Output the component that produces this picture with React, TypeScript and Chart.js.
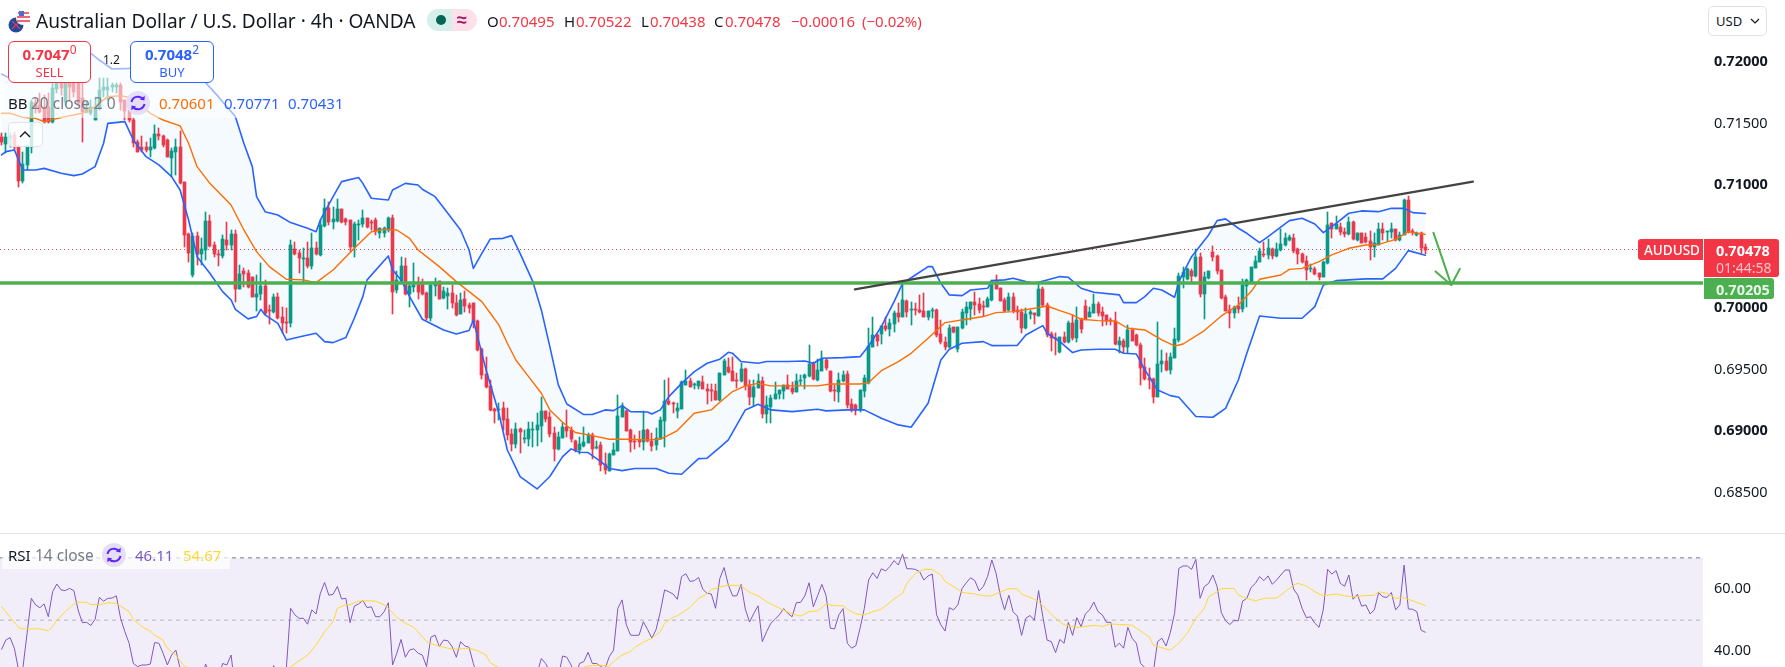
import React, { useEffect, useRef } from "react";
import { Chart, registerables } from "chart.js";
Chart.register(...registerables);

// Prices in pipettes (1e-5 of a dollar): 70478 = 0.70478
const opens = [
71396,71336,71385,71409,71309,71038,71166,71315,71667,71653,
71640,71640,71518,71781,71835,71680,71830,71830,71830,71708,
71599,71586,71531,71626,71775,71775,71802,71802,71816,71694,
71613,71531,71355,71315,71309,71288,71301,71418,71404,71369,
71220,71274,71309,71025,70605,70271,70591,70442,70474,70710,
70515,70439,70428,70556,70515,70605,70157,70304,70285,70252,
70095,70117,70182,69987,69973,70090,69927,69886,69878,70483,
70447,70404,70407,70344,70493,70434,70670,70819,70705,70713,
70805,70727,70718,70496,70678,70686,70737,70705,70718,70610,
70615,70637,70732,70150,70225,70345,70117,70177,70190,70198,
70128,69919,70185,70220,70087,70103,70122,70041,69954,70074,
70027,70047,69900,69670,69467,69372,69182,69174,69190,69098,
68979,68897,69017,68941,68941,69014,69011,69047,69166,69117,
68990,68857,68946,69033,69011,68925,68849,68881,68908,68973,
68865,68889,68735,68681,68808,68843,69120,69166,69011,68922,
68927,68916,69011,68922,68889,68944,69087,69244,69231,69168,
69185,69380,69410,69377,69369,69399,69345,69336,69328,69255,
69458,69523,69491,69417,69409,69507,69374,69282,69355,69409,
69141,69195,69266,69304,69331,69374,69350,69323,69412,69431,
69453,69558,69417,69493,69583,69488,69336,69320,69412,69463,
69222,69214,69182,69328,69390,69688,69783,69791,69856,69832,
69873,69959,69932,70060,69989,69997,69984,69981,69927,69976,
69987,69791,69729,69683,69846,69667,69840,69965,69992,70051,
70035,70022,70014,70068,70222,70165,70068,69987,70089,69987,
69973,69840,69951,69959,69940,70157,70027,69791,69759,69645,
69764,69726,69884,69756,69911,70019,69932,69965,70035,69970,
69943,69905,69897,69705,69737,69688,69824,69786,69705,69523,
69431,69426,69282,69547,69572,69499,69599,69743,70252,70236,
70301,70263,70415,70116,70247,70458,70425,70312,70092,69986,
69962,70019,69995,70182,70217,70331,70379,70439,70434,70480,
70425,70474,70515,70556,70572,70485,70444,70382,70322,70320,
70284,70255,70366,70691,70645,70658,70621,70604,70702,70556,
70610,70577,70550,70496,70518,70645,70618,70621,70645,70556,
70599,70881,70629,70596,70615,70495];

const highs = [
71423,71423,71423,71437,71328,71268,71328,71694,71708,71748,
71735,71748,71830,71884,71884,71857,71857,71857,71843,71830,
71680,71694,71721,71870,71870,71870,71830,71830,71830,71694,
71613,71545,71369,71404,71355,71382,71491,71464,71409,71374,
71301,71374,71442,71030,70610,70610,70623,70569,70781,70759,
70542,70474,70596,70705,70637,70637,70353,70325,70312,70258,
70271,70366,70231,70027,70117,70122,70008,70000,70556,70542,
70474,70488,70542,70610,70542,70718,70886,70867,70827,70886,
70805,70737,70718,70705,70718,70800,70737,70718,70732,70651,
70664,70745,70759,70307,70415,70407,70204,70372,70252,70236,
70136,70204,70250,70220,70177,70163,70190,70109,70122,70141,
70041,70047,69906,69675,69602,69418,69187,69228,69236,69187,
69019,69071,69025,69011,69079,69079,69152,69277,69166,69160,
69038,68998,69071,69174,69033,68930,68957,69038,68990,68984,
68925,68916,68822,68822,68908,69296,69228,69174,69017,68971,
69003,69166,69017,68984,69025,69114,69418,69431,69242,69228,
69412,69499,69431,69396,69412,69450,69383,69383,69385,69477,
69588,69599,69602,69472,69553,69512,69417,69417,69466,69445,
69287,69295,69398,69336,69374,69458,69404,69466,69458,69463,
69702,69566,69591,69653,69585,69491,69377,69472,69493,69493,
69260,69222,69336,69458,69837,69927,69789,69856,69927,69911,
69981,70041,70217,70068,70054,70041,70108,70122,69978,70000,
69992,69905,69764,69865,69851,69851,69992,70054,70054,70136,
70081,70062,70095,70230,70271,70168,70087,70122,70122,70019,
69992,70005,69987,69965,70209,70171,70041,69810,69797,69770,
69805,69897,69946,70008,69919,70068,70014,70116,70054,70014,
69946,69919,69973,69770,69748,69864,69837,69791,69715,69593,
69512,69431,69886,69661,69640,69634,69837,70284,70333,70325,
70317,70480,70447,70298,70304,70507,70434,70312,70108,70027,
70019,70095,70238,70238,70339,70428,70488,70542,70561,70488,
70534,70642,70615,70596,70604,70493,70447,70428,70360,70339,
70290,70382,70780,70696,70751,70691,70650,70740,70710,70615,
70612,70610,70629,70610,70691,70691,70630,70691,70648,70623,
70886,70913,70642,70623,70618,70522];

const lows = [
71328,71260,71315,71288,70984,71022,71125,71260,71586,71586,
71504,71504,71504,71748,71735,71653,71694,71721,71645,71355,
71586,71572,71531,71613,71721,71694,71762,71748,71613,71531,
71518,71309,71274,71274,71274,71233,71296,71369,71315,71233,
71065,71084,71011,70502,70380,70252,70353,70353,70393,70502,
70420,70344,70407,70474,70474,70054,70157,70176,70163,70095,
69981,70068,69946,69873,69960,69911,69797,69802,69851,70434,
70285,70217,70325,70317,70434,70426,70664,70678,70643,70705,
70691,70678,70461,70420,70556,70664,70656,70637,70596,70569,
70577,70623,69954,70128,70217,70109,70014,70136,70074,70109,
69906,69897,70101,70074,70079,69995,70000,69938,69954,69973,
69960,69838,69654,69423,69350,69168,69071,69093,69011,68930,
68843,68862,68827,68903,68881,68876,68881,68916,69079,68957,
68762,68849,68944,68957,68916,68835,68813,68870,68903,68776,
68857,68681,68654,68681,68808,68843,69114,69000,68832,68857,
68876,68849,68911,68843,68849,68938,68876,69215,69152,69106,
69179,69377,69358,69345,69347,69345,69223,69250,69255,69250,
69458,69477,69409,69355,69404,69336,69214,69209,69350,69106,
69065,69071,69260,69266,69260,69342,69301,69320,69374,69342,
69445,69417,69412,69488,69501,69322,69249,69241,69404,69187,
69155,69130,69160,69282,69385,69683,69694,69710,69818,69775,
69810,69892,69927,69932,69865,69946,69959,69927,69905,69919,
69770,69710,69661,69675,69797,69648,69835,69865,69905,69946,
69959,69938,70008,70062,70155,70057,69973,69981,69965,69905,
69802,69835,69913,69873,69938,70014,69764,69656,69621,69640,
69718,69721,69743,69729,69797,69905,69927,69959,69938,69856,
69864,69864,69702,69634,69634,69634,69732,69694,69377,69417,
69341,69228,69276,69485,69493,69466,69593,69729,70163,70230,
70203,70257,70095,69913,70241,70387,70276,70073,69976,69840,
69919,69965,69973,70008,70209,70325,70377,70420,70401,70401,
70420,70469,70509,70550,70447,70360,70366,70230,70295,70274,
70230,70252,70360,70569,70642,70596,70583,70599,70556,70550,
70531,70534,70393,70415,70512,70556,70547,70569,70550,70550,
70596,70615,70596,70591,70447,70438];

const closes = [
71355,71390,71401,71315,71038,71174,71315,71680,71640,71599,
71518,71518,71789,71830,71789,71835,71797,71762,71667,71599,
71618,71640,71626,71775,71802,71802,71816,71816,71680,71607,
71531,71347,71274,71288,71288,71309,71418,71401,71328,71233,
71279,71309,71016,70596,70447,70591,70442,70480,70710,70510,
70442,70431,70564,70515,70605,70157,70279,70279,70171,70095,
70117,70182,69960,69981,70090,69924,69878,69878,70515,70442,
70407,70412,70344,70493,70442,70678,70813,70705,70727,70805,
70699,70699,70496,70686,70686,70732,70664,70699,70632,70651,
70651,70732,70136,70231,70345,70117,70182,70190,70136,70114,
69919,70190,70209,70076,70141,70122,70046,69946,70068,70022,
70003,69887,69662,69461,69364,69174,69163,69185,69093,68971,
68897,69017,68995,68946,69017,69019,69052,69166,69101,68979,
68857,68952,69033,69006,68938,68846,68897,68914,68968,68857,
68873,68729,68686,68816,68849,69125,69206,69006,68916,68916,
68916,69011,68919,68884,68946,69093,69244,69225,69220,69193,
69404,69407,69364,69383,69410,69345,69331,69326,69255,69472,
69572,69485,69412,69415,69507,69371,69282,69360,69409,69144,
69214,69274,69304,69336,69374,69344,69320,69409,69417,69461,
69547,69423,69499,69591,69512,69331,69325,69415,69461,69214,
69171,69182,69333,69434,69694,69783,69737,69856,69832,69878,
69965,69932,70068,69973,69995,69989,69968,69932,69978,69987,
69783,69724,69688,69840,69805,69851,69973,70014,70049,70024,
69987,70016,70076,70225,70157,70062,69981,70089,69981,69973,
69840,69954,69973,69946,70157,70027,69783,69756,69753,69764,
69724,69884,69756,69905,69835,69911,69970,70032,69965,69938,
69900,69900,69710,69734,69688,69824,69737,69699,69518,69426,
69420,69282,69547,69572,69499,69602,69751,70263,70295,70317,
70266,70415,70116,70252,70304,70420,70303,70081,69981,69965,
70014,69995,70190,70230,70333,70387,70466,70434,70488,70425,
70480,70523,70569,70583,70466,70444,70374,70312,70331,70279,
70255,70377,70677,70645,70686,70618,70607,70702,70561,70610,
70534,70542,70501,70528,70645,70615,70626,70645,70553,70596,
70881,70621,70623,70610,70493,70478];

// Bollinger bands at these bar numbers
const upperBars = [0,2,6,10,14,18,21,23,26,30,34,40,46,48,51,55,57,59,60,62,65,68,72,74,75,78,80,84,85,87,91,92,95,98,99,102,105,108,110,111,113,115,118,120,122,125,127,129,131,133,137,139,142,144,146,148,152,153,155,157,160,163,166,169,171,172,174,178,180,185,189,191,193,198,202,204,207,210,212,215,218,219,221,223,226,228,232,233,236,238,241,243,246,249,251,254,257,263,264,267,269,271,273,276,277,280,284,286,288,291,293,296,298,303,306,309,311,314,317,320,324,327,330,332,335];
const upperVals = [71905,71870,71938,72019,72100,72128,72073,72019,71946,71951,71965,71965,71911,71835,71721,71559,71342,71152,70908,70786,70759,70697,70651,70623,70718,70908,71030,71063,71016,70895,70881,70962,71016,71003,70968,70908,70773,70637,70474,70325,70447,70564,70569,70591,70447,70217,69987,69689,69377,69222,69136,69136,69174,69168,69209,69160,69157,69141,69174,69282,69390,69485,69553,69586,69642,69634,69567,69553,69567,69567,69572,69553,69594,69599,69607,69694,69851,70054,70203,70271,70339,70339,70203,70109,70103,70149,70163,70225,70231,70244,70217,70203,70231,70258,70252,70163,70130,70109,70046,70046,70095,70163,70149,70090,70217,70420,70596,70713,70727,70651,70610,70534,70583,70713,70732,70686,70615,70691,70773,70792,70786,70813,70813,70778,70771];

const basisBars = [0,2,5,8,10,15,19,22,25,28,31,35,38,42,44,46,49,54,57,60,63,67,71,74,78,83,87,90,93,96,98,100,103,107,110,113,115,117,119,121,124,127,129,132,135,139,143,147,152,155,159,163,167,169,172,175,178,181,186,192,195,202,204,207,211,214,218,222,227,231,234,238,243,246,249,252,254,258,262,265,269,273,276,278,283,287,291,294,296,301,303,306,310,313,317,321,324,328,331,335];
const basisVals = [71586,71586,71553,71545,71518,71559,71586,71640,71721,71729,71708,71586,71531,71483,71342,71152,71016,70840,70637,70461,70339,70236,70231,70209,70312,70488,70623,70642,70637,70569,70474,70420,70339,70217,70136,70054,69960,69865,69716,69580,69445,69309,69174,69073,68990,68965,68935,68935,68930,68935,69006,69147,69174,69236,69323,69369,69390,69369,69369,69369,69385,69385,69396,69493,69567,69634,69756,69884,69911,69933,69965,69973,70000,70019,69981,69946,69911,69900,69897,69838,69824,69743,69694,69710,69819,69938,70027,70136,70236,70271,70317,70325,70380,70434,70488,70515,70520,70561,70623,70601];

const lowerBars = [0,1,3,5,8,10,14,17,19,22,24,25,29,31,34,37,40,42,44,46,49,52,54,55,58,60,61,62,65,67,71,74,76,78,81,83,85,86,91,92,94,96,99,104,107,110,111,112,114,117,119,122,126,129,132,134,136,138,141,143,146,149,154,157,160,164,166,169,171,175,178,181,186,192,194,199,203,207,211,214,218,221,223,226,231,233,239,241,245,246,249,252,254,258,262,264,267,269,272,275,277,281,285,288,291,293,296,301,306,309,311,314,321,325,328,331,335];
const lowerVals = [71247,71274,71288,71125,71125,71138,71098,71079,71092,71152,71342,71504,71518,71369,71233,71166,71071,70962,70718,70420,70285,70136,70068,69992,69914,69933,69992,69946,69878,69743,69775,69797,69729,69721,69762,69919,70095,70231,70426,70312,70231,70095,69911,69824,69791,69819,69905,69770,69499,69147,68848,68632,68531,68632,68794,68857,68829,68827,68754,68697,68680,68697,68697,68659,68651,68778,68781,68870,68930,69174,69220,69174,69160,69179,69166,69174,69174,69106,69052,69033,69228,69580,69667,69716,69729,69697,69699,69783,69859,69797,69729,69640,69661,69667,69667,69634,69629,69499,69336,69290,69277,69120,69114,69187,69417,69634,69938,69919,69919,70014,70190,70225,70239,70239,70325,70469,70431];

const priceTicks = [72000, 71500, 71000, 70000, 69500, 69000, 68500];
const boldPriceTicks = [72000, 71000, 70000, 69000];
const supportLevel = [70205, 70205];
const lastPriceLevel = [70478, 70478];
const trendBars = [200.76, 346.2];
const trendVals = [70154, 71030];
const arrowShaftBars = [336.9, 341.1];
const arrowShaftVals = [70615, 70190];
const arrowHeadBars = [337.4, 341.1, 343.1];
const arrowHeadVals = [70300, 70190, 70320];

// RSI 14 for every bar, and its moving average at sampled bars
const rsiVals = [
40.6,43.6,44.4,41,34,34.5,45.8,57,54.9,54,55.2,51.1,59.1,61.6,59.7,59.5,60.2,59.5,53.3,49.2,
49.3,48.3,50.3,57.3,56.1,57,57.1,57.8,50.6,46.3,42.6,36.1,35.1,35.6,35.6,35.9,42.8,42.6,39.4,35.6,
38.8,40.4,34.5,26.5,24.4,28.6,26.5,30.8,35.9,32.9,31.8,30.8,36.1,35.6,38.8,27.6,30.8,28.6,27.6,25.4,
27.6,30.8,25.4,24.4,35.4,32.9,31.8,34.5,53.8,51.7,50.6,50.6,48.7,53.3,52,58.6,62.1,58,58.3,60.8,
56.8,57,49.2,54.5,55.2,56.3,54,54.3,51.1,51.1,52.7,55.6,35.6,39.4,43.8,38.1,40.4,40.8,39.4,38.8,
35.1,44.5,45.2,41.5,43.6,43.4,41.5,38.1,43.1,41.7,41.3,36.1,31.8,27.6,24.4,21.2,22.2,23.3,24.4,24.4,
23.3,28.6,28.6,27.6,30.8,30.8,32.9,37.7,36.1,33.5,28.6,31.8,38.5,38.1,35.6,31.8,36.1,36.7,39.7,36.1,
36.1,35.1,34.5,38.3,40.4,53.8,56.5,48.5,45.2,45.1,45.2,49.5,47,44.2,47,52.7,59.7,59.1,58.4,56.7,
64,64.9,62.4,62.7,63.7,59.9,58.6,58.4,53.8,63.4,66.9,61.3,57.8,57.8,61.5,53.5,49.4,52.2,54.6,43.1,
46.3,49,50.3,51.7,53.7,52.2,51.1,55.6,55.7,57.8,62,54.3,57.8,61.5,57.9,47.4,47.2,51.7,53.7,42.6,
41,41.8,47.4,53.8,62.9,65.2,63.4,66.5,65.8,67.2,69.1,67.7,71.2,66.5,66.5,66.3,65.6,62.9,64.2,64.8,
51.7,48.5,46.5,54,53.3,54.9,60.2,62,63.6,62.7,59.4,60.8,64,69.3,65,58,53.3,58,52.7,51.3,
45.1,50.6,51.5,50,59.5,51.1,43.6,43.1,39.6,43.8,42.6,49.3,45.1,50.8,47.9,52,53.3,55.8,52.7,51.7,
49.3,49.3,41.3,42.6,41,47.7,44.2,42.6,36.1,34.8,33.4,33.4,43.1,44.2,41.7,46,52.2,66.6,67.4,67.4,
66.3,69.5,57,60.8,61.8,64.5,60.8,52.4,49.8,48.6,49.9,49.8,56.1,57,60.5,61.8,64,62.7,64.2,61.5,
62.9,64.5,66.1,66.1,60,58,53.8,50.8,51.1,49,47.7,53.5,66.3,64.8,65.9,61.8,60.9,64.5,56.7,58.3,
54.5,54.9,52,53.3,58.8,57.5,57.3,58.9,53.3,54.9,67.7,53.6,53.5,52.7,46.8,46.11];
const rsiMaBars = [0,1,2,4,5,7,9,11,12,13,15,17,18,20,21,23,24,25,27,28,30,31,33,35,36,38,39,41,42,43,48,55,62,67,68,70,72,74,76,78,79,81,82,84,86,88,90,91,93,95,97,99,100,102,104,106,108,110,112,114,115,117,122,130,137,138,141,143,144,146,148,149,151,153,155,156,158,159,162,164,166,167,170,172,174,176,178,180,181,182,184,186,188,190,192,194,196,198,199,201,203,205,207,210,212,213,215,217,219,221,222,225,226,229,231,233,235,237,239,240,243,244,246,248,250,253,255,257,259,261,263,266,267,270,271,274,275,277,279,281,283,284,286,287,290,291,293,295,297,299,300,302,304,305,307,309,311,314,316,318,321,323,324,326,328,330,332,335];
const rsiMaVals = [54.3,52.7,50.9,47.7,47.2,47.2,47.2,46.6,47.9,50,52.7,55.2,55.8,55.7,55,55,55.3,55.6,55.4,54.5,52.7,50.3,47.9,46.5,45.2,43.6,41,38.8,36.9,35.3,31.9,29.7,31.8,34.5,35,36.9,38.8,42,46.3,49.5,53.8,55,55,56.1,56.2,56.1,54.9,53.8,50.9,49,47.7,44.7,43.1,42,41.3,40.7,40.8,41,40.2,38.8,36.3,34.8,32.9,33.4,34.8,35.3,35.6,35.3,36.7,38.8,39.9,41.3,42.9,44.2,46.3,49,50.9,51.4,54.1,57,58.4,59.9,61,61.2,61,58.9,57.8,55.9,55.2,54.5,53.3,52,51.3,52.7,53,55.2,54.6,54.6,53.5,52,51.7,52.7,53.5,56.8,58.6,61.8,65,66.3,66.3,64.5,62.4,59.9,58.9,58.4,57.8,57.8,59.1,60.1,60.1,58.4,56.7,55.9,53.3,50.6,48.5,47.6,48,48.3,48,48.8,48.6,48.4,47.4,44.7,42,40.7,40.4,42.6,45.8,50.6,53.8,57.5,59.1,60.1,60.2,58,57,56.2,57,57.1,57.1,59.1,61.3,61.8,61,59.1,57.8,58.4,57.8,57.5,57.9,58,59.1,58.6,57,57.2,56.2,54.67];
const rsiTicks = [60, 40];
const rsiUpperBand = [70, 70];
const rsiMidBand = [50, 50];

const UP = "#089981";
const DOWN = "#f23645";
const FONT = '"Noto Sans", sans-serif';
const XMIN = -0.372;
const XMAX = 400.33;
const AXIS_W = 82;

const zip = (xs: number[], ys: number[]) => xs.map((x, i) => ({ x, y: ys[i] }));
const level = (ys: number[]) => [{ x: XMIN, y: ys[0] }, { x: XMAX, y: ys[1] }];
const lineBase = { type: "line", pointRadius: 0, tension: 0, fill: false, borderJoinStyle: "round", borderCapStyle: "round" };

const snapBars = {
  id: "snapBars",
  afterDatasetsUpdate(chart: any) {
    chart.getSortedVisibleDatasetMetas().forEach((meta: any) => {
      if (meta.type !== "bar") return;
      meta.data.forEach((el: any) => {
        el.x = Math.floor(el.x) + 0.5;
        let top = Math.round(Math.min(el.y, el.base));
        let bot = Math.round(Math.max(el.y, el.base));
        if (bot - top < 1) bot = top + 1;
        el.y = top;
        el.base = bot;
        el.height = bot - top;
      });
    });
  },
};

const fitAxis = (scale: any) => {
  scale.width = AXIS_W;
  scale.paddingTop = 0;
  scale.paddingBottom = 0;
};

function RefreshIcon({ x, y }: { x: number; y: number }) {
  return (
    <svg width="24" height="24" viewBox="0 0 24 24" style={{ position: "absolute", left: x - 12, top: y - 12 }}>
      <circle cx="12" cy="12" r="12" fill="#e5def7" />
      <path d="M5.5 11 a6.6 6.6 0 0 1 11.5 -3" fill="none" stroke="#5c22ff" strokeWidth="2" />
      <path d="M18.5 13 a6.6 6.6 0 0 1 -11.5 3" fill="none" stroke="#5c22ff" strokeWidth="2" />
      <path d="M18.8 4.8 L18.4 9.6 L13.8 8.6 Z" fill="#5c22ff" />
      <path d="M5.2 19.2 L5.6 14.4 L10.2 15.4 Z" fill="#5c22ff" />
    </svg>
  );
}

function T({ x, y, c, s = 15, w = 400, children }: any) {
  return (
    <span style={{ position: "absolute", left: x, top: y, lineHeight: "20px", height: 20, transform: "translateY(-10px)", color: c, fontSize: s, fontWeight: w, whiteSpace: "pre", fontFamily: FONT }}>
      {children}
    </span>
  );
}

function Box({ x, y, w, h, bg, style, children }: any) {
  return (
    <div style={{ position: "absolute", left: x, top: y, width: w, height: h, background: bg, boxSizing: "border-box", ...style }}>{children}</div>
  );
}

export default function App() {
  const mainRef = useRef<HTMLCanvasElement>(null);
  const rsiRef = useRef<HTMLCanvasElement>(null);

  useEffect(() => {
    document.body.style.margin = "0";
    document.body.style.overflow = "hidden";
    const bars = closes.map((_, i) => i);
    const barColors = closes.map((c, i) => (c >= opens[i] ? UP : DOWN));
    const main = new Chart(mainRef.current!, {
      data: {
        datasets: [
          { ...lineBase, label: "Trend", data: zip(trendBars, trendVals), borderColor: "#434343", borderWidth: 2.2, order: 0 },
          { ...lineBase, label: "Arrow shaft", data: zip(arrowShaftBars, arrowShaftVals), borderColor: "#4caf50", borderWidth: 2, order: 0 },
          { ...lineBase, label: "Arrow head", data: zip(arrowHeadBars, arrowHeadVals), borderColor: "#4caf50", borderWidth: 2, order: 0 },
          { ...lineBase, label: "Support", data: level(supportLevel), borderColor: "#4caf50", borderWidth: 3.5, order: 1 },
          { ...lineBase, label: "BB basis", data: zip(basisBars, basisVals), borderColor: "#ff6d00", borderWidth: 1.4, order: 2 },
          { ...lineBase, label: "BB upper", data: zip(upperBars, upperVals), borderColor: "#2962ff", borderWidth: 1.6, order: 2, fill: { target: 6 }, backgroundColor: "rgba(33,150,243,0.05)" },
          { ...lineBase, label: "BB lower", data: zip(lowerBars, lowerVals), borderColor: "#2962ff", borderWidth: 1.6, order: 2 },
          { type: "bar", label: "Body", data: bars.map((i) => ({ x: i, y: [opens[i], closes[i]] })), backgroundColor: barColors, borderWidth: 0, barThickness: 3, grouped: false, order: 3 },
          { type: "bar", label: "Wick", data: bars.map((i) => ({ x: i, y: [lows[i], highs[i]] })), backgroundColor: barColors, borderWidth: 0, barThickness: 1, grouped: false, order: 4 },
          { ...lineBase, label: "Last", data: level(lastPriceLevel), borderColor: DOWN, borderWidth: 1, borderDash: [1, 3], borderCapStyle: "butt", order: 5 },
        ],
      } as any,
      options: {
        animation: false,
        responsive: false,
        devicePixelRatio: 1,
        layout: { padding: 0 },
        plugins: { legend: { display: false }, tooltip: { enabled: false } },
        scales: {
          x: { type: "linear", display: false, min: XMIN, max: XMAX, offset: false, grid: { display: false } },
          y: {
            position: "right",
            min: 68173,
            max: 72507,
            grid: { display: false },
            border: { display: false },
            afterBuildTicks: (s: any) => { s.ticks = priceTicks.map((value) => ({ value })); },
            afterFit: fitAxis,
            ticks: {
              autoSkip: false,
              padding: 3,
              color: "#131722",
              callback: (v: any) => (Number(v) / 1e5).toFixed(5),
              font: (ctx: any) => ({ family: FONT, size: 14.5, weight: boldPriceTicks.includes(ctx.tick?.value) ? "bold" : "normal" }),
            },
          },
        },
      } as any,
      plugins: [snapBars],
    } as any);

    const rsi = new Chart(rsiRef.current!, {
      data: {
        datasets: [
          { ...lineBase, label: "RSI", data: zip(bars, rsiVals), borderColor: "#7e57c2", borderWidth: 1, order: 1 },
          { ...lineBase, label: "RSI MA", data: zip(rsiMaBars, rsiMaVals), borderColor: "#fdd835", borderWidth: 1, order: 0 },
          { ...lineBase, label: "Upper band", data: level(rsiUpperBand), borderColor: "#787b86", borderWidth: 1, borderDash: [4, 4], borderCapStyle: "butt", fill: "start", backgroundColor: "rgba(126,87,194,0.1)", order: 3 },
          { ...lineBase, label: "Mid band", data: level(rsiMidBand), borderColor: "rgba(120,123,134,0.5)", borderWidth: 1, borderDash: [4, 4], borderCapStyle: "butt", order: 2 },
        ],
      } as any,
      options: {
        animation: false,
        responsive: false,
        devicePixelRatio: 1,
        layout: { padding: 0 },
        plugins: { legend: { display: false }, tooltip: { enabled: false } },
        scales: {
          x: { type: "linear", display: false, min: XMIN, max: XMAX, grid: { display: false } },
          y: {
            position: "right",
            min: 34.96,
            max: 77.66,
            grid: { display: false },
            border: { display: false },
            afterBuildTicks: (s: any) => { s.ticks = rsiTicks.map((value) => ({ value })); },
            afterFit: fitAxis,
            ticks: {
              autoSkip: false,
              padding: 3,
              color: "#131722",
              callback: (v: any) => Number(v).toFixed(2),
              font: { family: FONT, size: 14.5 },
            },
          },
        },
      } as any,
    } as any);
    return () => { main.destroy(); rsi.destroy(); };
  }, []);

  return (
    <div style={{ position: "relative", width: 1785, height: 667, overflow: "hidden", background: "#fff", fontFamily: FONT }}>
      <canvas ref={mainRef} width={1785} height={533} style={{ position: "absolute", left: 0, top: 0, width: 1785, height: 533 }} />
      <canvas ref={rsiRef} width={1785} height={133} style={{ position: "absolute", left: 0, top: 534, width: 1785, height: 133 }} />
      <Box x={0} y={533} w={1785} h={1} bg="#e0e3eb" />

      {/* price-scale tags */}
      <Box x={1638} y={239} w={65} h={21} bg={DOWN} style={{ borderRadius: "3px 0 0 3px" }} />
      <T x={1644} y={250} c="#fff" s={13.5} w={500}>AUDUSD</T>
      <Box x={1704} y={239} w={75} h={38} bg={DOWN} style={{ borderRadius: "0 3px 3px 0" }} />
      <T x={1716} y={250} c="#fff" s={14.5} w={700}>0.70478</T>
      <T x={1716} y={268} c="rgba(255,255,255,0.7)" s={14}>01:44:58</T>
      <Box x={1704} y={278} w={70} h={21} bg="#4caf50" style={{ borderRadius: "0 3px 3px 0" }} />
      <T x={1716} y={288.5} c="#e8f5e9" s={14.5} w={700}>0.70205</T>

      {/* currency button */}
      <Box x={1708} y={6} w={59} h={30} bg="#fff" style={{ border: "1px solid #e0e3eb", borderRadius: 5 }} />
      <T x={1716} y={21} c="#131722" s={13}>USD</T>
      <svg width="10" height="6" viewBox="0 0 10 6" style={{ position: "absolute", left: 1750, top: 18 }}>
        <path d="M1 1 L5 5 L9 1" fill="none" stroke="#131722" strokeWidth="1.2" />
      </svg>

      {/* legend wash */}
      <Box x={0} y={38} w={350} h={80} bg="rgba(255,255,255,0.55)" />
      <Box x={2} y={549} w={228} h={20} bg="rgba(255,255,255,0.7)" />

      {/* title row */}
      <svg width="22" height="24" viewBox="0 0 22 24" style={{ position: "absolute", left: 8, top: 10 }}>
        <circle cx="8" cy="15" r="7.5" fill="#1e4b9b" />
        <path d="M4 11 L12 19 M12 11 L4 19" stroke="#e8384f" strokeWidth="1.2" />
        <circle cx="15" cy="8" r="7" fill="#f7f7f7" />
        <path d="M10 3 H21 M9 7 H22 M9 11 H22" stroke="#e8384f" strokeWidth="1.6" />
        <rect x="11" y="1" width="5" height="5" fill="#4a6fd1" />
      </svg>
      <T x={36} y={21} c="#131722" s={19.1}>Australian Dollar / U.S. Dollar · 4h · OANDA</T>
      <Box x={427} y={9} w={25} h={22} bg="#d6efea" style={{ borderRadius: "11px 0 0 11px" }} />
      <Box x={452} y={9} w={25} h={22} bg="#fde0e9" style={{ borderRadius: "0 11px 11px 0" }} />
      <Box x={436} y={15} w={10} h={10} bg="#056656" style={{ borderRadius: 5 }} />
      <T x={457} y={19} c="#a3165c" s={18} w={700}>≈</T>
      <T x={487} y={21} c="#131722">O</T><T x={499} y={21} c={DOWN}>0.70495</T>
      <T x={564} y={21} c="#131722">H</T><T x={576} y={21} c={DOWN}>0.70522</T>
      <T x={641} y={21} c="#131722">L</T><T x={650} y={21} c={DOWN}>0.70438</T>
      <T x={714} y={21} c="#131722">C</T><T x={725} y={21} c={DOWN}>0.70478</T>
      <T x={791} y={21} c={DOWN}>−0.00016</T><T x={862} y={21} c={DOWN}>(−0.02%)</T>

      {/* trade buttons */}
      <Box x={8} y={41} w={83} h={42} bg="#fff" style={{ border: `1px solid ${DOWN}`, borderRadius: 6, color: DOWN, textAlign: "center", fontFamily: FONT }}>
        <div style={{ fontSize: 15, fontWeight: 700, lineHeight: "20px", marginTop: 2 }}>0.7047<sup style={{ fontSize: 12, fontWeight: 400, lineHeight: 0 }}>0</sup></div>
        <div style={{ fontSize: 13, lineHeight: "16px" }}>SELL</div>
      </Box>
      <T x={103} y={60} c="#131722" s={12}>1.2</T>
      <Box x={130} y={41} w={84} h={42} bg="#fff" style={{ border: "1px solid #2962ff", borderRadius: 6, color: "#2962ff", textAlign: "center", fontFamily: FONT }}>
        <div style={{ fontSize: 15, fontWeight: 700, lineHeight: "20px", marginTop: 2 }}>0.7048<sup style={{ fontSize: 12, fontWeight: 400, lineHeight: 0 }}>2</sup></div>
        <div style={{ fontSize: 13, lineHeight: "16px" }}>BUY</div>
      </Box>

      {/* BB legend */}
      <T x={8} y={103} c="#131722" s={15}>BB</T>
      <T x={31} y={103} c="#787b86" s={15.5}>20 close 2 0</T>
      <RefreshIcon x={138} y={103} />
      <T x={159} y={103} c="#ff6d00" s={15}>0.70601</T>
      <T x={224} y={103} c="#2962ff" s={15}>0.70771</T>
      <T x={288} y={103} c="#2962ff" s={15}>0.70431</T>
      <Box x={8} y={122} w={35} h={25} bg="rgba(255,255,255,0.8)" style={{ border: "1px solid #e0e3eb", borderRadius: 4 }} />
      <svg width="12" height="8" viewBox="0 0 12 8" style={{ position: "absolute", left: 19, top: 130 }}>
        <path d="M1 7 L6 2 L11 7" fill="none" stroke="#131722" strokeWidth="1.4" />
      </svg>

      {/* RSI legend */}
      <T x={8} y={555} c="#131722" s={15}>RSI</T>
      <T x={35} y={555} c="#787b86" s={15.5}>14 close</T>
      <RefreshIcon x={114} y={555} />
      <T x={135} y={555} c="#7e57c2" s={15}>46.11</T>
      <T x={183} y={555} c="#fdd835" s={15}>54.67</T>
    </div>
  );
}
